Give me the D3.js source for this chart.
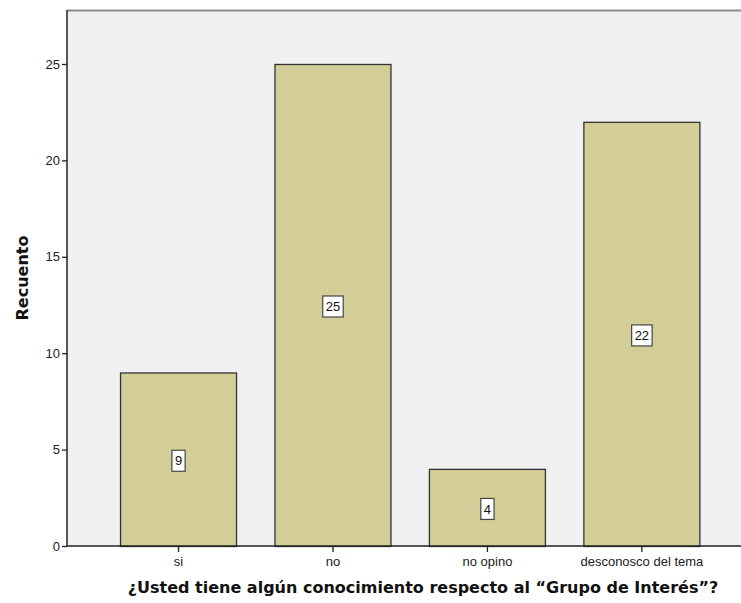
<!DOCTYPE html>
<html><head><meta charset="utf-8">
<script src="https://cdn.jsdelivr.net/npm/d3@7"></script>
<style>body{margin:0;background:#fff}svg{display:block}text{font-family:"Liberation Sans",Arial,sans-serif}</style>
</head><body>
<svg id="c" width="741" height="603"></svg>
<script>
const categories = ["si", "no", "no opino", "desconosco del tema"];
const counts = [9, 25, 4, 22];
const yTicks = [0, 5, 10, 15, 20, 25];
const xTitle = "¿Usted tiene algún conocimiento respecto al “Grupo de Interés”?";
const yTitle = "Recuento";

const svg = d3.select("#c");
const L = 67, R = 741, T = 10, B = 546;
const x = d3.scaleBand().domain(categories).range([100.8, 718.6]).paddingInner(0.249).paddingOuter(0.1245);
const y = d3.scaleLinear().domain([0, 27.8]).range([B, T]);

svg.append("rect").attr("x", L).attr("y", T).attr("width", R - L).attr("height", B - T).attr("fill", "#f0f0f0");
svg.append("line").attr("x1", L).attr("x2", R).attr("y1", T + 0.5).attr("y2", T + 0.5).attr("stroke", "#8a8a8a").attr("stroke-width", 2);

svg.selectAll("rect.bar").data(counts).enter().append("rect").attr("class", "bar")
  .attr("x", (d, i) => x(categories[i]) + 0.5)
  .attr("y", d => y(d) + 0.5)
  .attr("width", x.bandwidth())
  .attr("height", d => B - y(d))
  .attr("fill", "#d3ce97").attr("stroke", "#333").attr("stroke-width", 1.3);

// value labels
const lab = svg.selectAll("g.lab").data(counts).enter().append("g").attr("class", "lab")
  .attr("transform", (d, i) => `translate(${x(categories[i]) + x.bandwidth() / 2 + 0.5},${y(d / 2) + 1.5})`);
lab.each(function (d) {
  const g = d3.select(this);
  const t = g.append("text").attr("text-anchor", "middle").attr("dy", "0.36em").attr("font-size", 13).attr("fill", "#111").text(d);
  const w = t.node().getComputedTextLength();
  g.insert("rect", "text").attr("x", -w / 2 - 3).attr("y", -10.5).attr("width", w + 6).attr("height", 21)
    .attr("fill", "#fff").attr("stroke", "#444").attr("stroke-width", 1.2);
});

// y axis
const ya = svg.append("g").attr("transform", `translate(${L},0)`)
  .call(d3.axisLeft(y).tickValues(yTicks).tickSize(5).tickPadding(2).tickSizeOuter(0));
ya.select(".domain").remove();
ya.selectAll(".tick line").attr("stroke", "#222").attr("stroke-width", 1.3);
ya.selectAll(".tick text").attr("font-size", 13).attr("fill", "#222").attr("font-family", "Liberation Sans, Arial, sans-serif");
svg.append("line").attr("x1", L).attr("x2", L).attr("y1", T).attr("y2", B).attr("stroke", "#222").attr("stroke-width", 1.5);

// x axis
const xa = svg.append("g").attr("transform", `translate(0.5,${B})`)
  .call(d3.axisBottom(x).tickSize(6).tickPadding(5).tickSizeOuter(0));
xa.select(".domain").remove();
xa.selectAll(".tick line").attr("stroke", "#222").attr("stroke-width", 1.3);
xa.selectAll(".tick text").attr("font-size", 13).attr("fill", "#222").attr("font-family", "Liberation Sans, Arial, sans-serif");
svg.append("line").attr("x1", L).attr("x2", R).attr("y1", B).attr("y2", B).attr("stroke", "#222").attr("stroke-width", 1.5);

svg.append("text").attr("x", 423).attr("y", 593).attr("text-anchor", "middle")
  .attr("font-size", 16).attr("font-weight", "bold").attr("fill", "#111")
  .style("font-family", "'DejaVu Sans', sans-serif").text(xTitle);
svg.append("text").attr("transform", "translate(28,278) rotate(-90)").attr("text-anchor", "middle")
  .attr("font-size", 16).attr("font-weight", "bold").attr("fill", "#111")
  .style("font-family", "'DejaVu Sans', sans-serif").text(yTitle);
</script>
</body></html>
